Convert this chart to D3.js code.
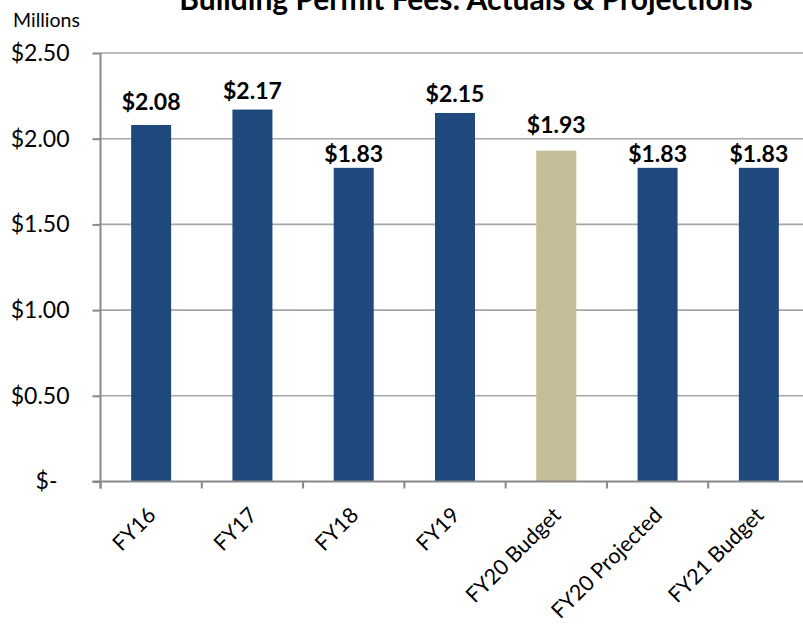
<!DOCTYPE html>
<html>
<head>
<meta charset="utf-8">
<script src="https://cdn.jsdelivr.net/npm/d3@7/dist/d3.min.js"></script>
<style>
  html, body { margin: 0; padding: 0; background: #fff; }
  svg { display: block; }
  text { font-family: Lato, "Open Sans", sans-serif; fill: #000; }
</style>
</head>
<body>
<svg id="chart" width="803" height="628"></svg>
<script>
// Building permit fee revenue, in millions of dollars
const categories = ["FY16", "FY17", "FY18", "FY19", "FY20 Budget", "FY20 Projected", "FY21 Budget"];
const values = [2.08, 2.17, 1.83, 2.15, 1.93, 1.83, 1.83];
const kinds = ["actual", "actual", "actual", "actual", "budget", "actual", "actual"];
const yTicks = [0, 0.5, 1.0, 1.5, 2.0, 2.5];
const titleText = "Building Permit Fees: Actuals & Projections";
const unitText = "Millions";

const colors = { actual: "#1F497D", budget: "#C4BD97" };
const axisColor = "#898989";
const gridColor = "#A6A6A6";

// gap (px) between each bar top and its value label
const labelGap = { "FY16": 15, "FY17": 11, "FY18": 6, "FY19": 11, "FY20 Budget": 18, "FY20 Projected": 6, "FY21 Budget": 6 };

const svg = d3.select("#chart");
const plotLeft = 100.5, plotRight = 809.5, plotTop = 53, plotBottom = 481.5;

const x = d3.scaleBand()
  .domain(categories)
  .range([plotLeft, plotRight])
  .paddingInner(0.605)
  .paddingOuter(0.3025);

const y = d3.scaleLinear().domain([0, 2.5]).range([plotBottom, plotTop]);

// horizontal gridlines
svg.append("g")
  .selectAll("line")
  .data(yTicks.filter(d => d > 0))
  .join("line")
  .attr("x1", plotLeft).attr("x2", 803)
  .attr("y1", d => y(d)).attr("y2", d => y(d))
  .attr("stroke", gridColor)
  .attr("stroke-width", 1.6);

// bars
svg.append("g")
  .selectAll("rect")
  .data(categories)
  .join("rect")
  .attr("x", d => x(d))
  .attr("width", x.bandwidth())
  .attr("y", (d, i) => y(values[i]))
  .attr("height", (d, i) => y(0) - y(values[i]))
  .attr("fill", (d, i) => colors[kinds[i]]);

// value labels
svg.append("g")
  .selectAll("text")
  .data(categories)
  .join("text")
  .attr("x", d => x(d) + x.bandwidth() / 2)
  .attr("y", (d, i) => y(values[i]) - labelGap[d])
  .attr("text-anchor", "middle")
  .attr("font-weight", "bold")
  .attr("font-size", 23)
  .text((d, i) => "$" + d3.format(".2f")(values[i]));

// y axis
const yAxis = d3.axisLeft(y)
  .tickValues(yTicks)
  .tickSize(8)
  .tickPadding(23)
  .tickFormat(d => d === 0 ? "$-" : "$" + d3.format(".2f")(d));

const yg = svg.append("g")
  .attr("transform", `translate(${plotLeft},0)`)
  .call(yAxis);
yg.select(".domain").attr("stroke", axisColor).attr("stroke-width", 2)
  .attr("d", `M0,${plotTop}V${plotBottom + 7}`);
yg.selectAll(".tick line").attr("stroke", axisColor).attr("stroke-width", 2);
yg.selectAll(".tick text")
  .attr("font-size", 23)
  .attr("font-family", "Lato, 'Open Sans', sans-serif")
  .attr("fill", "#000")
  .attr("dx", d => d === 0 ? -12 : 0);

// x axis
const xg = svg.append("g");
xg.append("line")
  .attr("x1", plotLeft - 8).attr("x2", 803)
  .attr("y1", plotBottom).attr("y2", plotBottom)
  .attr("stroke", axisColor).attr("stroke-width", 2);
const step = x.step();
xg.selectAll("line.tick")
  .data(d3.range(categories.length + 1))
  .join("line")
  .attr("class", "tick")
  .attr("x1", i => plotLeft + i * step).attr("x2", i => plotLeft + i * step)
  .attr("y1", plotBottom).attr("y2", plotBottom + 7)
  .attr("stroke", axisColor).attr("stroke-width", 2);

xg.selectAll("text")
  .data(categories)
  .join("text")
  .attr("transform", d => `translate(${x(d) + x.bandwidth() / 2 + 6},${plotBottom + 35}) rotate(-45)`)
  .attr("text-anchor", "end")
  .attr("font-size", 21.5)
  .text(d => d);

// unit label and title
svg.append("text")
  .attr("x", 13).attr("y", 27)
  .attr("font-size", 19.5)
  .text(unitText);

svg.append("text")
  .attr("x", 466).attr("y", 10)
  .attr("text-anchor", "middle")
  .attr("font-weight", "bold")
  .attr("font-size", 30)
  .text(titleText);
</script>
</body>
</html>
